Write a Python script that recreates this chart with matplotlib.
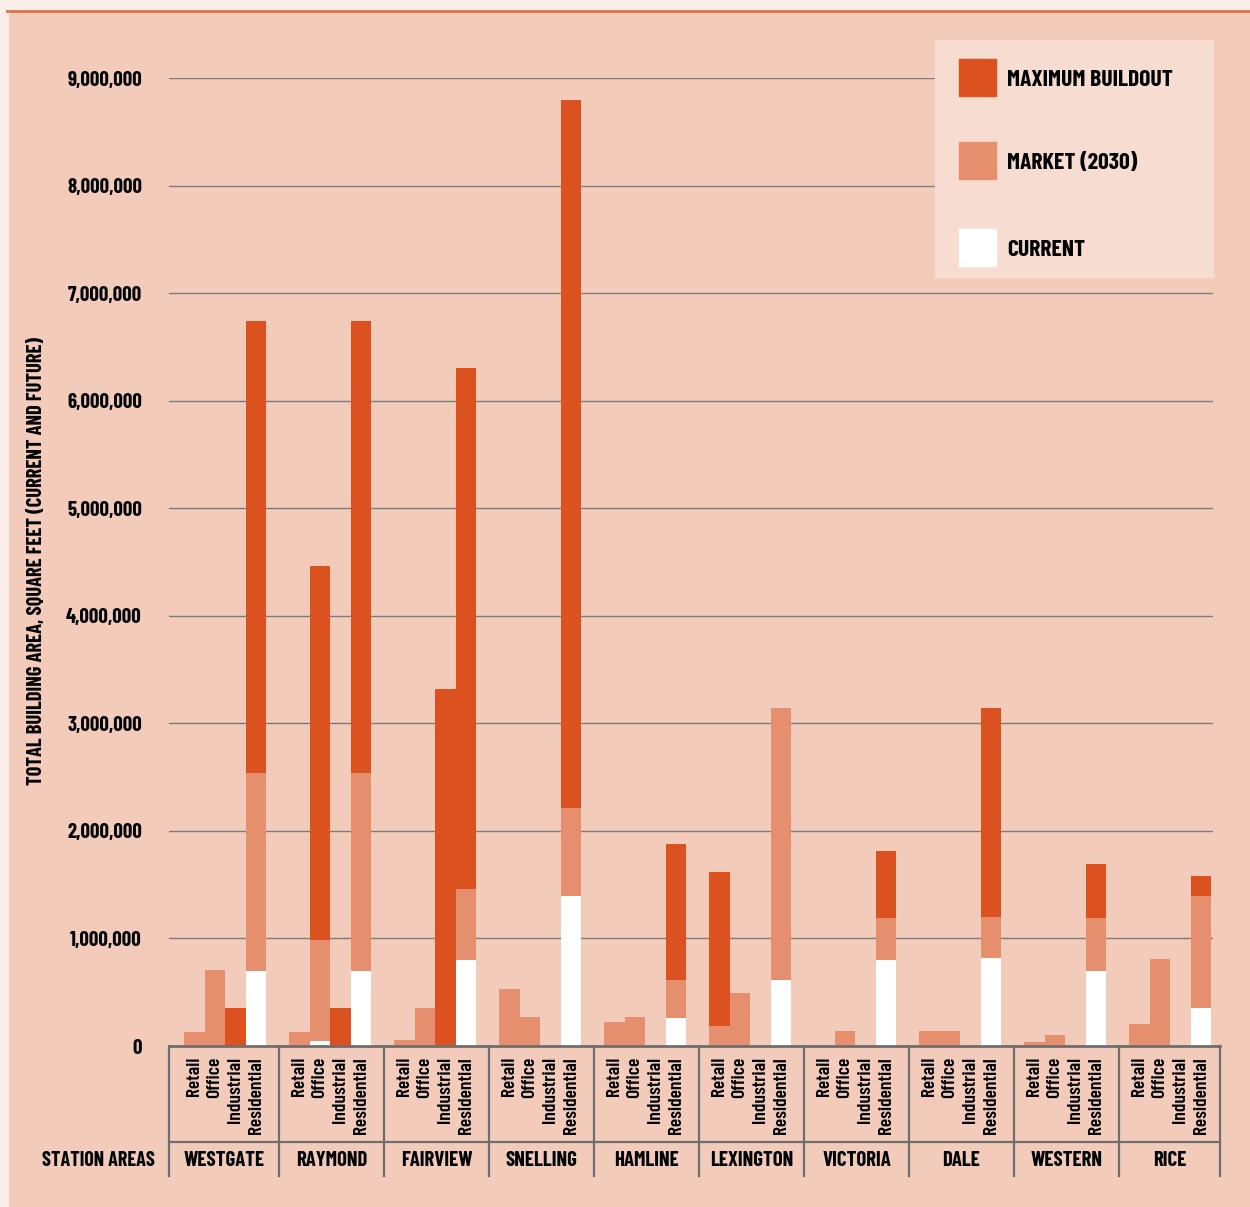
import numpy as np
import matplotlib.pyplot as plt
import matplotlib.transforms as mtransforms
from matplotlib.patches import Rectangle
from matplotlib.lines import Line2D

stations = ['WESTGATE', 'RAYMOND', 'FAIRVIEW', 'SNELLING', 'HAMLINE',
            'LEXINGTON', 'VICTORIA', 'DALE', 'WESTERN', 'RICE']
uses = ['Retail', 'Office', 'Industrial', 'Residential']

# square feet, millions: [retail, office, industrial, residential]
current = np.array([
    [0, 0, 0, 0.70],
    [0, 0.05, 0, 0.70],
    [0, 0, 0, 0.80],
    [0, 0, 0, 1.39],
    [0, 0, 0, 0.26],
    [0, 0, 0, 0.61],
    [0, 0, 0, 0.80],
    [0, 0, 0, 0.82],
    [0, 0, 0, 0.70],
    [0, 0, 0, 0.35],
])
market = np.array([
    [0.13, 0.71, 0, 2.54],
    [0.13, 0.99, 0, 2.54],
    [0.06, 0.35, 0, 1.46],
    [0.53, 0.27, 0, 2.21],
    [0.22, 0.27, 0, 0.61],
    [0.19, 0.49, 0, 3.14],
    [0, 0.14, 0, 1.19],
    [0.14, 0.14, 0, 1.20],
    [0.04, 0.10, 0, 1.19],
    [0.20, 0.81, 0, 1.39],
])
max_buildout = np.array([
    [0, 0, 0.35, 6.74],
    [0, 4.46, 0.35, 6.74],
    [0, 0, 3.32, 6.30],
    [0, 0, 0, 8.80],
    [0, 0, 0, 1.88],
    [1.62, 0, 0, 0],
    [0, 0, 0, 1.81],
    [0, 0, 0, 3.14],
    [0, 0, 0, 1.69],
    [0, 0, 0, 1.58],
])
legend_labels = ['MAXIMUM BUILDOUT', 'MARKET (2030)', 'CURRENT']

DARK = '#db5220'
MID = '#e68f6e'
LIGHT = '#ffffff'
BG = '#f3cbbb'
plt.rcParams['font.family'] = ['Barlow Condensed', 'DejaVu Sans']

W, H = 1250, 1207


def fx(p):
    return p / W


def fy(p):
    return 1 - p / H


fig = plt.figure(figsize=(W / 100, H / 100), dpi=100, facecolor=BG)

# page strips
fig.patches.append(Rectangle((0, fy(11)), 1, 11 / H, transform=fig.transFigure,
                             color='#fbede8', zorder=0))
fig.patches.append(Rectangle((0, 0), fx(8), 1, transform=fig.transFigure,
                             color='#fbede8', zorder=0))
fig.add_artist(Line2D([fx(7), 1], [fy(11), fy(11)], transform=fig.transFigure,
                      color='#e2704a', lw=2))

ax = fig.add_axes([fx(169), fy(1046), fx(1213) - fx(169), (1046 - 78) / H])
ax.set_facecolor('none')
ax.set_xlim((169 - 174) / 105, (1213 - 174) / 105)
ax.set_ylim(0, 9)
for s in ax.spines.values():
    s.set_visible(False)

bar_w = 20.5 / 105
offset = 10.3 / 105
n = len(stations)
for j in range(len(uses)):
    x = np.arange(n) + offset + j * bar_w
    ax.bar(x, max_buildout[:, j], width=bar_w, align='edge', color=DARK, zorder=3)
    ax.bar(x, market[:, j], width=bar_w, align='edge', color=MID, zorder=4)
    ax.bar(x, current[:, j], width=bar_w, align='edge', color=LIGHT, zorder=5)

yt = np.arange(0, 10)
ax.set_yticks(yt)
ax.set_yticklabels([f'{int(v * 1e6):,}' for v in yt], fontsize=15, fontweight='bold')
ax.tick_params(axis='y', length=0, pad=19.5)
ax.set_xticks([])
for v in yt[1:]:
    ax.axhline(v, color='#7d7d7d', lw=1.0, zorder=1)

blend = mtransforms.blended_transform_factory(ax.transData, fig.transFigure)
x_left = (169 - 174) / 105
x_right = (1220 - 174) / 105
line_c = '#6e6e6e'
fig.add_artist(Line2D([x_left, x_right], [fy(1046), fy(1046)], transform=blend,
                      color=line_c, lw=2, zorder=6))
fig.add_artist(Line2D([x_left, x_right], [fy(1142), fy(1142)], transform=blend,
                      color=line_c, lw=1.6))
for b in [x_left] + list(range(1, n)) + [x_right]:
    fig.add_artist(Line2D([b, b], [fy(1046), fy(1176)], transform=blend,
                          color=line_c, lw=1.6))

# category labels under bars
for i in range(n):
    for j, u in enumerate(uses):
        xc = i + offset + (j + 0.5) * bar_w
        fig.text(xc, fy(1057), u, transform=blend, rotation=90, ha='center',
                 va='top', fontsize=14, fontweight='semibold')
    left = x_left if i == 0 else i
    right = x_right if i == n - 1 else i + 1
    fig.text((left + right) / 2, fy(1161), stations[i], transform=blend,
             ha='center', va='center', fontsize=15, fontweight='bold')

fig.text(fx(155), fy(1161), 'STATION AREAS', ha='right', va='center',
         fontsize=14.5, fontweight='bold')
fig.text(fx(37), fy(561), 'TOTAL BUILDING AREA, SQUARE FEET (CURRENT AND FUTURE)',
         rotation=90, ha='center', va='center', fontsize=14.8, fontweight='bold')

# legend
fig.patches.append(Rectangle((fx(935), fy(277)), fx(1213) - fx(935), (277 - 40) / H,
                             transform=fig.transFigure, color='#f7dcd2', zorder=7))
for k, (lab, col) in enumerate(zip(legend_labels, [DARK, MID, LIGHT])):
    top = [59, 142, 229][k]
    fig.patches.append(Rectangle((fx(959), fy(top + 37)), 37 / W, 37 / H,
                                 transform=fig.transFigure, color=col, zorder=8))
    fig.text(fx(1007), fy(top + 21), lab, ha='left', va='center', fontsize=17,
             fontweight='bold', zorder=9)

fig.savefig('out.png', dpi=100, facecolor=BG)
